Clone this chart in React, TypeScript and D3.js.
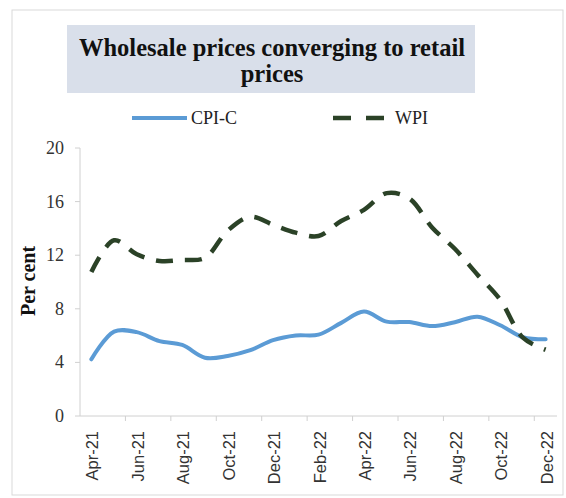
import React from "react";
import * as d3 from "d3";

const months = ["Apr-21","May-21","Jun-21","Jul-21","Aug-21","Sep-21","Oct-21","Nov-21","Dec-21","Jan-22","Feb-22","Mar-22","Apr-22","May-22","Jun-22","Jul-22","Aug-22","Sep-22","Oct-22","Nov-22","Dec-22"];
const cpiC = [4.23,6.30,6.26,5.59,5.30,4.35,4.48,4.91,5.66,6.01,6.07,6.95,7.79,7.04,7.01,6.71,7.00,7.41,6.77,5.88,5.72];
const wpi = [10.74,13.11,12.07,11.57,11.64,11.80,13.83,14.87,14.27,13.68,13.43,14.55,15.38,16.63,16.23,14.07,12.48,10.55,8.67,5.85,4.95];
const yTicks = [0,4,8,12,16,20];
const xLabels = ["Apr-21","Jun-21","Aug-21","Oct-21","Dec-21","Feb-22","Apr-22","Jun-22","Aug-22","Oct-22","Dec-22"];

const W = 566, H = 498;
const left = 80, right = 557, top = 148, bottom = 416;

export default function App() {
  const x = d3.scaleBand<string>().domain(months).range([left, right]);
  const y = d3.scaleLinear().domain([0, 20]).range([bottom, top]);
  const cx = (m: string) => (x(m) as number) + x.bandwidth() / 2;
  const line = d3.line<number>().x((_, i) => cx(months[i])).y(d => y(d)).curve(d3.curveCatmullRom.alpha(0.5));
  const serif = "'Liberation Serif', 'Times New Roman', serif";
  const sans = "'Liberation Sans', Arial, sans-serif";
  const wpiColor = "#2b4227";
  const cpiColor = "#5b9bd5";
  return (
    <svg width={W} height={H} style={{ position: "absolute", left: 0, top: 0, background: "#fff" }}>
      <rect x={12} y={10} width={551} height={485} fill="#fff" stroke="#d9d9d9" strokeWidth={1} />
      <rect x={67} y={25} width={408} height={68} fill="#d9dfea" />
      <text x={272} y={56} textAnchor="middle" fontFamily={serif} fontWeight="bold" fontSize={24.5} fill="#111">Wholesale prices converging to retail</text>
      <text x={272} y={82} textAnchor="middle" fontFamily={serif} fontWeight="bold" fontSize={24.5} fill="#111">prices</text>
      {/* legend */}
      <line x1={132} x2={187} y1={118} y2={118} stroke={cpiColor} strokeWidth={4} />
      <text x={191} y={124} fontFamily={serif} fontSize={18} fill="#222">CPI-C</text>
      <line x1={333} x2={384} y1={118} y2={118} stroke={wpiColor} strokeWidth={4.5} strokeDasharray="18 15" />
      <text x={395} y={124} fontFamily={serif} fontSize={18} fill="#222">WPI</text>
      {/* axes */}
      <line x1={left} x2={left} y1={top} y2={bottom} stroke="#d0d0d0" />
      <line x1={left} x2={right} y1={bottom} y2={bottom} stroke="#d0d0d0" />
      {yTicks.map(t => (
        <g key={t}>
          <line x1={left - 5} x2={left} y1={y(t)} y2={y(t)} stroke="#d0d0d0" />
          <text x={64} y={y(t) + 6} textAnchor="end" fontFamily={serif} fontSize={18} fill="#333">{t}</text>
        </g>
      ))}
      {months.map((m, i) => (i % 2 === 1 ? (
        <line key={m} x1={(x(m) as number) + x.bandwidth()} x2={(x(m) as number) + x.bandwidth()} y1={bottom} y2={bottom + 5} stroke="#d0d0d0" />
      ) : null))}
      {xLabels.map(m => (
        <text key={m} transform={`translate(${cx(m) + 7},${431}) rotate(-90)`} textAnchor="end" fontFamily={sans} fontSize={16.5} fill="#333">{m}</text>
      ))}
      <text transform={`translate(35,${281}) rotate(-90)`} textAnchor="middle" fontFamily={serif} fontWeight="bold" fontSize={20} fill="#111">Per cent</text>
      <path d={line(cpiC) || ""} fill="none" stroke={cpiColor} strokeWidth={4} strokeLinecap="round" />
      <path d={line(wpi) || ""} fill="none" stroke={wpiColor} strokeWidth={4.5} strokeDasharray="17 12" />
    </svg>
  );
}
